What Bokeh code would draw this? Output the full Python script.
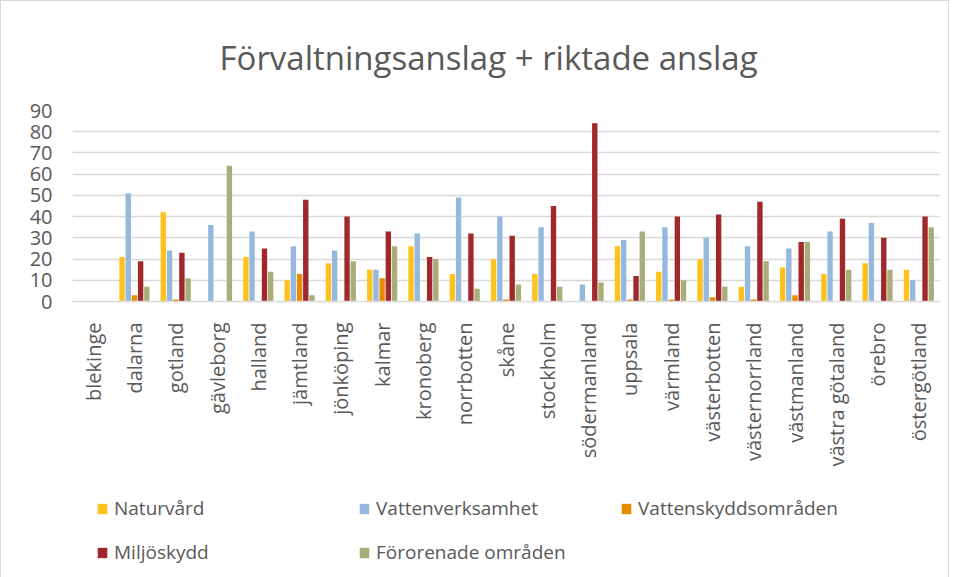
import math
from bokeh.plotting import figure
from bokeh.layouts import column
from bokeh.models import ColumnDataSource, Legend, LegendItem, SingleIntervalTicker
from bokeh.transform import dodge
from bokeh.embed import file_html
from bokeh.resources import INLINE

categories = ["blekinge", "dalarna", "gotland", "gävleborg", "halland", "jämtland",
              "jönköping", "kalmar", "kronoberg", "norrbotten", "skåne", "stockholm",
              "södermanland", "uppsala", "värmland", "västerbotten", "västernorrland",
              "västmanland", "västra götaland", "örebro", "östergötland"]

naturvard = [0, 21, 42, 0, 21, 10, 18, 15, 26, 13, 20, 13, 0, 26, 14, 20, 7, 16, 13, 18, 15]
vattenverksamhet = [0, 51, 24, 36, 33, 26, 24, 15, 32, 49, 40, 35, 8, 29, 35, 30, 26, 25, 33, 37, 10]
vattenskydd = [0, 3, 1, 0, 0, 13, 0, 11, 0, 0, 1, 0, 0, 1, 1, 2, 1, 3, 0, 0, 0]
miljoskydd = [0, 19, 23, 0, 25, 48, 40, 33, 21, 32, 31, 45, 84, 12, 40, 41, 47, 28, 39, 30, 40]
fororenade = [0, 7, 11, 64, 14, 3, 19, 26, 20, 6, 8, 7, 9, 33, 10, 7, 19, 28, 15, 15, 35]

series_names = ["Naturvård", "Vattenverksamhet", "Vattenskyddsområden", "Miljöskydd", "Förorenade områden"]
series_keys = ["n", "v", "vs", "m", "f"]
colors = ["#FFC21C", "#95B8DE", "#E58C00", "#A0282A", "#AAAD78"]

source = ColumnDataSource(dict(cat=categories, n=naturvard, v=vattenverksamhet,
                               vs=vattenskydd, m=miljoskydd, f=fororenade))

FONT = "Open Sans"
GREY = "#595959"

p = figure(frame_width=867, frame_height=191, x_range=categories, y_range=(0, 90),
           output_backend="svg", toolbar_location=None,
           title="Förvaltningsanslag + riktade anslag",
           min_border_left=71, min_border_right=9, min_border_top=10, min_border_bottom=180)

p.title.text_font = FONT
p.title.text_font_size = "33px"
p.title.text_font_style = "normal"
p.title.text_color = GREY
p.title.align = "left"
p.title.offset = 147
p.title.padding = 0
p.title.standoff = 62

offsets = [-0.3, -0.15, 0.0, 0.15, 0.3]
for key, off, col in zip(series_keys, offsets, colors):
    p.vbar(x=dodge("cat", off, range=p.x_range), top=key, width=0.13,
           source=source, fill_color=col, line_color=None)

p.outline_line_color = None
p.xgrid.grid_line_color = None
p.ygrid.grid_line_color = "#d9d9d9"
p.ygrid.grid_line_width = 1.5

p.yaxis.ticker = SingleIntervalTicker(interval=10)
p.yaxis.axis_line_color = None
p.yaxis.major_tick_line_color = None
p.yaxis.minor_tick_line_color = None
p.yaxis.major_label_text_font = FONT
p.yaxis.major_label_text_font_size = "20px"
p.yaxis.major_label_text_color = GREY
p.yaxis.major_label_standoff = 14

p.xaxis.axis_line_color = "#d9d9d9"
p.xaxis.axis_line_width = 1.5
p.xaxis.major_tick_line_color = None
p.xaxis.minor_tick_line_color = None
p.xaxis.major_label_orientation = math.pi / 2
p.xaxis.major_label_text_font = FONT
p.xaxis.major_label_text_font_size = "20px"
p.xaxis.major_label_text_color = GREY
p.xaxis.major_label_standoff = 15

# legend strip below the chart (swatches come from zero-size copies of the series)
lf = figure(width=947, height=96, x_range=p.x_range, y_range=(0, 1),
            output_backend="svg", toolbar_location=None,
            min_border_left=0, min_border_right=0, min_border_top=0, min_border_bottom=0)
lf.axis.visible = False
lf.grid.visible = False
lf.outline_line_color = None

legend_items = []
for name, key, col in zip(series_names, series_keys, colors):
    r = lf.vbar(x="cat", top=key, bottom=key, width=0, source=source,
                fill_color=col, line_color=None)
    legend_items.append(LegendItem(label=name, renderers=[r]))

legend = Legend(items=legend_items, ncols=3, orientation="horizontal", location=(24, 12))
legend.label_text_font = FONT
legend.label_text_font_size = "19px"
legend.label_text_color = GREY
legend.label_width = 226
legend.glyph_width = 12
legend.glyph_height = 13
legend.label_standoff = 6
legend.spacing = 18
legend.border_line_color = None
legend.background_fill_alpha = 0
legend.margin = 0
legend.padding = 0
lf.add_layout(legend, "center")

layout = column(p, lf, spacing=0)
layout.styles = {"border": "1px solid #d9d9d9"}

open("out.html", "w").write(file_html(layout, INLINE))
